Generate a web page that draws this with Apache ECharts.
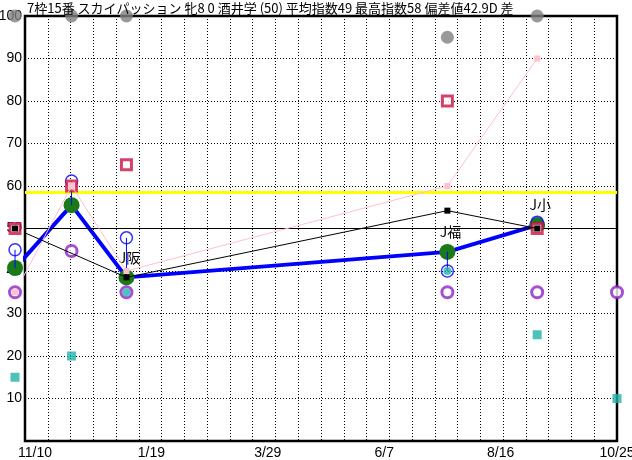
<!DOCTYPE html>
<html><head><meta charset="utf-8">
<script src="https://cdn.jsdelivr.net/npm/echarts@6/dist/echarts.min.js"></script>
<style>html,body{margin:0;padding:0;background:#fff}#c{width:632px;height:460px}</style>
</head><body><div id="c"></div>
<script>
// ---- data (x = days since 11/10) ----
const titleText = '7枠15番 スカイパッション 牝8 0 酒井学 (50) 平均指数49 最高指数58 偏差値42.9D 差';
const tickDays = [0, 70, 140, 210, 280, 350];
const tickLabels = ['11/10', '1/19', '3/29', '6/7', '8/16', '10/25'];
const raceDays = [-45, -12, 22, 55, 248, 302, 350];
const mainIndex = [49.5, 40.7, 55.5, 38.5, 44.5, 50.8, null];
const blueRing = [null, 45, 61.2, 47.8, 40, 51.5, null];
const grayTop = [null, 100, 100, 100, 95, 100, null];
const redSq = [null, 50, 60, 65, 80, 50, null];
const purpleRing = [null, 35, 44.7, 35, 35, 35, 35];
const tealSq = [null, 15, 20, null, null, 25, 10];
const tealDot = [null, null, null, 35, 40, null, null];
const pinkLine = [34, 35, 60, 40, 60, 90, null];
const blackLine = [55.5, 50, null, 38.5, 54.2, 50, null];
const courseLabels = ['', '', '', 'J阪', 'J福', 'J小', ''];
const yellowLevel = 58.5;
const baseLevel = 50;

// ---- build ----
const pts = arr => raceDays.map((d, i) => [d, arr[i] == null ? '-' : arr[i]]);
const conn = raceDays.map((d, i) => (mainIndex[i] != null && blueRing[i] != null) ? [d, mainIndex[i], blueRing[i]] : null).filter(Boolean);
const FONT = '"Liberation Sans", "Noto Sans CJK JP", sans-serif';
const JFONT = '"Noto Sans CJK JP", sans-serif';

const chart = echarts.init(document.getElementById('c'), null, {renderer: 'canvas'});
chart.setOption({
  animation: false,
  title: {text: titleText, left: 22, top: -3, textStyle: {fontSize: 13, fontWeight: 'normal', color: '#000', fontFamily: JFONT}},
  grid: {left: 25, right: 15, top: 16, bottom: 19, outerBoundsMode: 'none', containLabel: false,
         show: true, borderColor: '#000', borderWidth: 2.5, backgroundColor: 'transparent'},
  xAxis: [
    {type: 'value', min: -6, max: 350, axisLine: {show: false}, axisTick: {show: false}, splitLine: {show: false},
     axisLabel: {customValues: tickDays, formatter: v => tickLabels[tickDays.indexOf(v)], fontSize: 14, color: '#000', margin: 5, fontFamily: FONT}},
    {type: 'value', min: 0, max: 26, interval: 1, position: 'bottom', axisLine: {show: false}, axisTick: {show: false}, axisLabel: {show: false},
     splitLine: {show: true, lineStyle: {type: [1, 2], color: '#000', width: 1}}}
  ],
  yAxis: {type: 'value', min: 0, max: 100, interval: 10, axisLine: {show: false}, axisTick: {show: false},
    axisLabel: {formatter: v => v === 0 ? '' : String(v), fontSize: 14, color: '#000', margin: 3, fontFamily: FONT},
    splitLine: {show: true, lineStyle: {type: [1, 2], color: '#000', width: 1}}},
  series: [
    {type: 'scatter', name: 'gray', data: pts(grayTop), symbol: 'circle', symbolSize: 13, itemStyle: {color: '#808080'}, clip: false, z: 3,
     markLine: {silent: true, symbol: 'none', label: {show: false},
       data: [{yAxis: yellowLevel, lineStyle: {color: '#ffff00', width: 3, type: 'solid'}},
              {yAxis: baseLevel, lineStyle: {color: '#000', width: 1, type: 'solid'}}]}},
    {type: 'line', name: 'main', data: pts(mainIndex), symbol: 'circle', symbolSize: 16, showAllSymbol: true,
     lineStyle: {color: '#0000ff', width: 4}, itemStyle: {color: '#1a7a1a', borderWidth: 0}, clip: false, z: 4,
     label: {show: true, position: 'top', distance: 5, offset: [3, 0], formatter: p => courseLabels[p.dataIndex] || '', fontSize: 14, color: '#000', fontFamily: JFONT}},
    {type: 'custom', name: 'conn', data: conn, clip: false, z: 5,
     renderItem: (params, api) => {
       const p1 = api.coord([api.value(0), api.value(1)]);
       const p2 = api.coord([api.value(0), api.value(2)]);
       return {type: 'line', shape: {x1: p1[0], y1: p1[1], x2: p2[0], y2: p2[1]}, style: {stroke: '#0000ff', lineWidth: 1}};
     }},
    {type: 'scatter', name: 'blue', data: pts(blueRing), symbol: 'circle', symbolSize: 12, clip: false, z: 5,
     itemStyle: {color: 'rgba(255,255,255,0)', borderColor: '#0000ff', borderWidth: 1.5}},
    {type: 'scatter', name: 'purple', data: pts(purpleRing), symbol: 'circle', symbolSize: 11, clip: false, z: 6,
     itemStyle: {color: '#fff', borderColor: '#8e24c8', borderWidth: 3}},
    {type: 'scatter', name: 'tealSq', data: pts(tealSq), symbol: 'rect', symbolSize: 9, clip: false, z: 7,
     itemStyle: {color: '#20b2aa'}},
    {type: 'scatter', name: 'tealDot', data: pts(tealDot), symbol: 'circle', symbolSize: 8, clip: false, z: 7,
     itemStyle: {color: '#20b2aa'}},
    {type: 'scatter', name: 'red', data: pts(redSq), symbol: 'rect', symbolSize: 10, clip: false, z: 8,
     itemStyle: {color: '#fff', borderColor: '#cc1144', borderWidth: 3}},
    {type: 'line', name: 'pink', data: pts(pinkLine), symbol: 'rect', symbolSize: 6, showAllSymbol: true, connectNulls: true, clip: false, z: 9,
     lineStyle: {color: '#ffc0cb', width: 1}, itemStyle: {color: '#ffc0cb'}},
    {type: 'line', name: 'black', data: pts(blackLine), symbol: 'rect', symbolSize: 6, showAllSymbol: true, connectNulls: true, clip: false, z: 10,
     lineStyle: {color: '#000', width: 1}, itemStyle: {color: '#000'}}
  ]
});
</script>
</body></html>
